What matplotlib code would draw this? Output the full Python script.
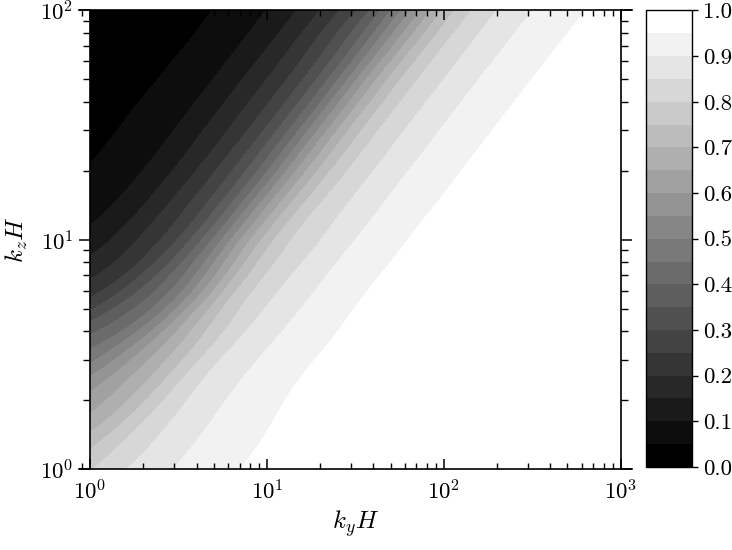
"""Filled contour map of the ratio over (k_y H, k_z H)."""

import numpy as np
import matplotlib.pyplot as plt
import matplotlib.tri as mtri
from matplotlib.colors import Normalize
from matplotlib.patches import Rectangle

plt.rcParams["font.family"] = "serif"
plt.rcParams["font.serif"] = ["cmr10", "DejaVu Serif"]
plt.rcParams["mathtext.fontset"] = "cm"
plt.rcParams["axes.formatter.use_mathtext"] = True

# grid nodes: rows at log10(kz H), columns along s = log10(ky H) - log10(kz H)
kz_log = [0.0, 0.25, 0.5, 0.75, 1.0, 1.25, 1.5, 1.75, 2.0]
s_log = [-2.0, -1.75, -1.5, -1.25, -1.0, -0.75, -0.5, -0.25, 0.0, 0.25, 0.5,
         0.75, 1.0, 1.25, 1.5, 1.75, 2.0, 2.25, 2.5, 2.75, 3.0]

# values, one row per kz node (bottom to top)
row_kz_0 = [0.260, 0.320, 0.390, 0.460, 0.530, 0.600, 0.670, 0.730, 0.795, 0.860, 0.905,
            0.940, 0.963, 0.978, 0.987, 0.993, 0.996, 0.997, 0.998, 0.998, 0.998]
row_kz_1 = [0.180, 0.240, 0.300, 0.370, 0.440, 0.510, 0.580, 0.646, 0.750, 0.850, 0.905,
            0.943, 0.965, 0.979, 0.987, 0.993, 0.996, 0.997, 0.998, 0.998, 0.998]
row_kz_2 = [0.130, 0.170, 0.220, 0.275, 0.335, 0.400, 0.468, 0.589, 0.722, 0.845, 0.904,
            0.944, 0.967, 0.980, 0.988, 0.993, 0.996, 0.997, 0.998, 0.998, 0.998]
row_kz_3 = [0.060, 0.085, 0.115, 0.155, 0.200, 0.248, 0.360, 0.508, 0.716, 0.838, 0.901,
            0.944, 0.968, 0.980, 0.988, 0.993, 0.996, 0.997, 0.998, 0.998, 0.998]
row_kz_4 = [0.034, 0.047, 0.065, 0.090, 0.119, 0.194, 0.305, 0.505, 0.722, 0.836, 0.900,
            0.944, 0.968, 0.980, 0.988, 0.993, 0.996, 0.997, 0.998, 0.998, 0.998]
row_kz_5 = [0.021, 0.030, 0.043, 0.060, 0.102, 0.182, 0.298, 0.494, 0.712, 0.835, 0.900,
            0.944, 0.968, 0.980, 0.988, 0.993, 0.996, 0.997, 0.998, 0.998, 0.998]
row_kz_6 = [0.016, 0.024, 0.034, 0.058, 0.101, 0.181, 0.297, 0.493, 0.711, 0.835, 0.900,
            0.944, 0.968, 0.980, 0.988, 0.993, 0.996, 0.997, 0.998, 0.998, 0.998]
row_kz_7 = [0.012, 0.020, 0.032, 0.058, 0.101, 0.181, 0.297, 0.493, 0.711, 0.835, 0.900,
            0.944, 0.968, 0.980, 0.988, 0.993, 0.996, 0.997, 0.998, 0.998, 0.998]
row_kz_8 = [0.010, 0.018, 0.032, 0.058, 0.101, 0.181, 0.297, 0.493, 0.711, 0.835, 0.900,
            0.944, 0.968, 0.980, 0.988, 0.993, 0.996, 0.997, 0.998, 0.998, 0.998]

levels = np.linspace(0.0, 1.0, 21)
cbar_ticks = [0.0, 0.1, 0.2, 0.3, 0.4, 0.5, 0.6, 0.7, 0.8, 0.9, 1.0]

Z = np.array([row_kz_0, row_kz_1, row_kz_2, row_kz_3, row_kz_4,
              row_kz_5, row_kz_6, row_kz_7, row_kz_8])
S, LZ = np.meshgrid(s_log, kz_log)

# two triangles per grid cell, same diagonal everywhere
ns, nz = len(s_log), len(kz_log)
triangles = []
for j in range(nz - 1):
    for i in range(ns - 1):
        a = j * ns + i
        triangles.append([a, a + 1, a + ns + 1])
        triangles.append([a, a + ns + 1, a + ns])

# smooth the coarse table in (s, log kz), then map the nodes back to (ky H, kz H)
tri = mtri.Triangulation(S.ravel(), LZ.ravel(), triangles)
refiner = mtri.UniformTriRefiner(tri)
interp = mtri.CubicTriInterpolator(tri, Z.ravel(), kind="min_E")
tri_f, z_f = refiner.refine_field(Z.ravel(), triinterpolator=interp, subdiv=4)
z_f = np.clip(z_f, 0.0005, 0.9995)
tri_k = mtri.Triangulation(10 ** (tri_f.x + tri_f.y), 10 ** tri_f.y, tri_f.triangles)

fig = plt.figure(figsize=(7.32, 5.5), dpi=100)
ax = fig.add_axes([0.108, 0.147, 0.755, 0.834])
cax = fig.add_axes([0.882, 0.151, 0.064, 0.830])

cs = ax.tricontourf(tri_k, z_f, levels=levels, cmap="gray",
                    norm=Normalize(vmin=0.025, vmax=0.975))

ax.set_xscale("log")
ax.set_yscale("log")
ax.set_xlim(10 ** -0.062, 10 ** 3.062)
ax.set_ylim(1, 100)
cs.set_clip_path(Rectangle((1, 1), 999, 99, transform=ax.transData))

ax.spines["left"].set_position(("data", 1))
ax.spines["right"].set_position(("data", 1000))
for s in ax.spines.values():
    s.set_linewidth(1.2)
ax.tick_params(axis="x", which="both", direction="in", top=True, bottom=True)
ax.tick_params(axis="y", which="both", direction="out", left=True, right=True)
ax.tick_params(axis="x", which="major", length=7.2, width=1.1, pad=7, labelsize=16.5)
ax.tick_params(axis="x", which="minor", length=4.3, width=1.0)
ax.tick_params(axis="y", which="major", length=8, width=1.1, pad=4, labelsize=16.5)
ax.tick_params(axis="y", which="minor", length=5, width=1.0)
ax.set_xlabel(r"$k_yH$", fontsize=18)
ax.set_ylabel(r"$k_zH$", fontsize=18)
ax.xaxis.set_label_coords(0.5, -0.085)
ax.yaxis.set_label_coords(-0.089, 0.5)

cb = fig.colorbar(cs, cax=cax, ticks=cbar_ticks, format="%.1f")
cb.outline.set_linewidth(1.0)
cax.tick_params(length=4, width=1.0, labelsize=16.5)

fig.savefig("out.png", dpi=100)
plt.close(fig)
